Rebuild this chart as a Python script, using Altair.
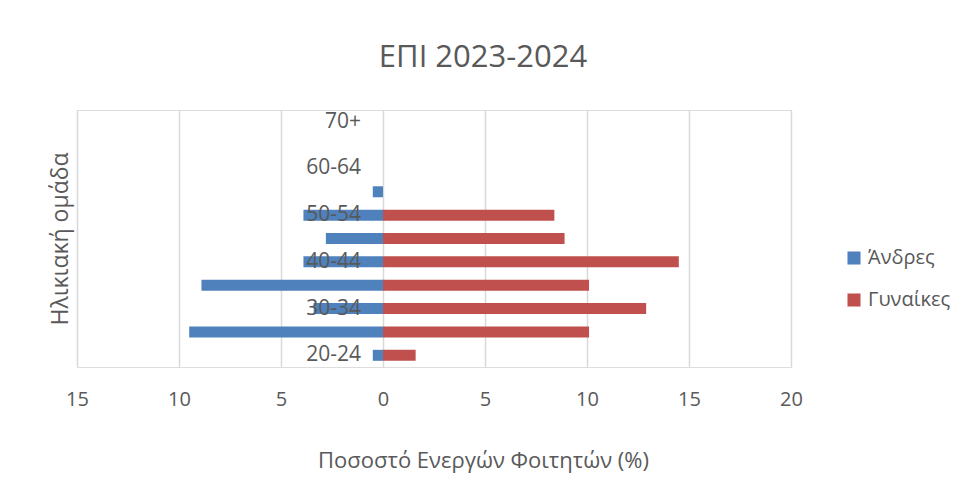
import altair as alt
import pandas as pd

ages = ["20-24", "25-29", "30-34", "35-39", "40-44", "45-49",
        "50-54", "55-59", "60-64", "65-69", "70+"]
men = [0.5, 9.5, 3.4, 8.9, 3.9, 2.8, 3.9, 0.5, 0, 0, 0]
women = [1.6, 10.1, 12.9, 10.1, 14.5, 8.9, 8.4, 0, 0, 0, 0]
shown_labels = ["20-24", "30-34", "40-44", "50-54", "60-64", "70+"]
series = ["Άνδρες", "Γυναίκες"]
x_ticks = [-15, -10, -5, 0, 5, 10, 15, 20]

rows = []
for a, m, w in zip(ages, men, women):
    rows.append({"age": a, "value": -m, "sex": series[0]})
    rows.append({"age": a, "value": w, "sex": series[1]})
df = pd.DataFrame(rows)
lab = pd.DataFrame({"age": shown_labels, "zero": [0] * len(shown_labels)})

FONT = "Open Sans"
TXT = "#595959"

y_scale = alt.Scale(domain=list(reversed(ages)), paddingInner=0.53, paddingOuter=0.265)

bars = alt.Chart(df).mark_bar().encode(
    x=alt.X("value:Q",
            scale=alt.Scale(domain=[-15, 20], nice=False),
            axis=alt.Axis(values=x_ticks, labelExpr="format(abs(datum.value), 'd')",
                          title="Ποσοστό Ενεργών Φοιτητών (%)",
                          grid=True, gridColor="#D9D9D9", gridWidth=1.5,
                          domain=False, ticks=False, labelFlush=False,
                          labelPadding=22, labelFontSize=20, labelColor=TXT, labelFont=FONT,
                          titleFontSize=22, titleColor=TXT, titleFont=FONT,
                          titleFontWeight="normal", titleX=406, titleY=93,
                          titleAlign="center", titleBaseline="middle")),
    y=alt.Y("age:N", scale=y_scale,
            axis=alt.Axis(labels=False, ticks=False, domain=False, grid=False,
                          title="Ηλικιακή ομάδα", titleFontSize=23, titleColor=TXT,
                          titleFont=FONT, titleFontWeight="normal", titlePadding=5)),
    color=alt.Color("sex:N",
                    scale=alt.Scale(domain=series, range=["#4F81BD", "#C0504D"]),
                    legend=alt.Legend(title=None, orient="none", legendX=767, legendY=138,
                                      symbolType="square", symbolSize=170,
                                      symbolStrokeWidth=0,
                                      labelFontSize=20, labelColor=TXT, labelFont=FONT,
                                      rowPadding=22, labelOffset=4)),
)

labels = alt.Chart(lab).mark_text(align="right", baseline="middle", dx=-22,
                                  fontSize=21, color=TXT, font=FONT).encode(
    x=alt.X("zero:Q"),
    y=alt.Y("age:N", scale=y_scale),
    text="age:N",
)

chart = alt.layer(bars, labels).properties(
    width=714,
    height=257,
    title=alt.TitleParams("ΕΠΙ 2023-2024", fontSize=31, color=TXT, font=FONT,
                          fontWeight="normal", anchor="middle", offset=36, dx=49),
    autosize=alt.AutoSizeParams(type="none"),
    padding={"left": 69, "top": 102, "right": 164, "bottom": 110},
).configure_view(stroke=None).configure(background="white")

chart.save("out.html", embed_options={"renderer": "svg", "actions": False})
